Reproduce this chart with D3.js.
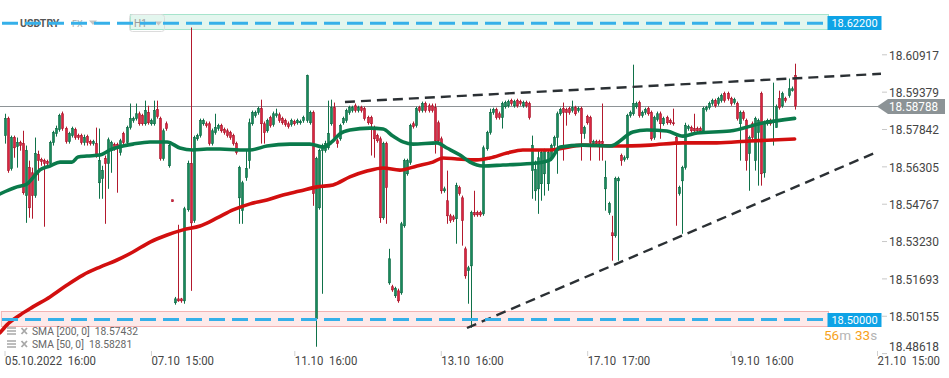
<!DOCTYPE html>
<html>
<head>
<meta charset="utf-8">
<script src="https://cdn.jsdelivr.net/npm/d3@7"></script>
<style>
  body { margin: 0; background: #fff; }
  svg { display: block; font-family: Roboto, sans-serif; }
  text { white-space: pre; }
</style>
</head>
<body>
<script>
const symbol = 'USDTRY'
const market = 'FX'
const interval = 'H1'

// x axis: candle index of each label
const xTickIdx = [0, 48, 95, 143, 191, 238, 286]
const xTickLabels = ['05.10.2022  16:00', '07.10  15:00', '11.10  16:00', '13.10  16:00', '17.10  17:00', '19.10  16:00', '21.10  15:00']
const yTicks = [18.48618, 18.50155, 18.51693, 18.53230, 18.54767, 18.56305, 18.57842, 18.59379, 18.60917]

// hourly candles
const opens = [
  18.5757, 18.5827, 18.5621, 18.5749, 18.5712, 18.5728, 18.5724, 18.5510, 18.5625, 18.5604,
  18.5510, 18.5679, 18.5658, 18.5654, 18.5650, 18.5642, 18.5728, 18.5765, 18.5782, 18.5847,
  18.5786, 18.5732, 18.5757, 18.5782, 18.5757, 18.5757, 18.5728, 18.5753, 18.5732, 18.5724,
  18.5724, 18.5563, 18.5580, 18.5662, 18.5642, 18.5703, 18.5720, 18.5720, 18.5687, 18.5765,
  18.5728, 18.5790, 18.5819, 18.5827, 18.5847, 18.5839, 18.5806, 18.5852, 18.5806, 18.5806,
  18.5864, 18.5827, 18.5662, 18.5806, 18.5633, 18.5493, 18.5069, 18.5085, 18.5085, 18.5077,
  18.5452, 18.5642, 18.5407, 18.5744, 18.5757, 18.5806, 18.5806, 18.5806, 18.5724, 18.5769,
  18.5786, 18.5798, 18.5782, 18.5777, 18.5769, 18.5757, 18.5724, 18.5501, 18.5448, 18.5584,
  18.5654, 18.5806, 18.5839, 18.5852, 18.5868, 18.5806, 18.5777, 18.5831, 18.5802, 18.5839,
  18.5843, 18.5827, 18.5819, 18.5806, 18.5802, 18.5815, 18.5810, 18.5810, 18.5819, 18.5819,
  18.5810, 18.5852, 18.5003, 18.5460, 18.5695, 18.5695, 18.5707, 18.5806, 18.5872, 18.5736,
  18.5744, 18.5810, 18.5819, 18.5852, 18.5860, 18.5880, 18.5860, 18.5872, 18.5868, 18.5831,
  18.5831, 18.5790, 18.5757, 18.5744, 18.5419, 18.5724, 18.5151, 18.5135, 18.5098, 18.5118,
  18.5110, 18.5386, 18.5600, 18.5646, 18.5806, 18.5798, 18.5872, 18.5860, 18.5889, 18.5880,
  18.5880, 18.5872, 18.5810, 18.5744, 18.5530, 18.5489, 18.5427, 18.5423, 18.5415, 18.5543,
  18.5501, 18.5291, 18.5201, 18.5221, 18.5440, 18.5440, 18.5440, 18.5435, 18.5703, 18.5769,
  18.5852, 18.5864, 18.5847, 18.5831, 18.5876, 18.5880, 18.5901, 18.5880, 18.5901, 18.5897,
  18.5880, 18.5893, 18.5889, 18.5613, 18.5530, 18.5538, 18.5559, 18.5600, 18.5559, 18.5666,
  18.5716, 18.5749, 18.5847, 18.5868, 18.5864, 18.5868, 18.5860, 18.5872, 18.5860, 18.5868,
  18.5765, 18.5835, 18.5831, 18.5724, 18.5732, 18.5732, 18.5732, 18.5538, 18.5440, 18.5357,
  18.5345, 18.5571, 18.5675, 18.5658, 18.5666, 18.5839, 18.5847, 18.5876, 18.5893, 18.5839,
  18.5852, 18.5868, 18.5852, 18.5749, 18.5823, 18.5847, 18.5806, 18.5831, 18.5819, 18.5810,
  18.5749, 18.5518, 18.5571, 18.5625, 18.5786, 18.5790, 18.5786, 18.5786, 18.5786, 18.5777,
  18.5864, 18.5872, 18.5889, 18.5901, 18.5889, 18.5901, 18.5930, 18.5930, 18.5909, 18.5893,
  18.5889, 18.5806, 18.5852, 18.5819, 18.5683, 18.5806, 18.5654, 18.5769, 18.5930, 18.5604,
  18.5806, 18.5819, 18.5810, 18.5790, 18.5909, 18.5880, 18.5909, 18.5922, 18.5942, 18.6004
]
const highs = [
  18.5847, 18.5835, 18.5757, 18.5757, 18.5749, 18.5736, 18.5777, 18.5716, 18.5654, 18.5625,
  18.5749, 18.5695, 18.5666, 18.5662, 18.5658, 18.5736, 18.5777, 18.5798, 18.5847, 18.5856,
  18.5794, 18.5773, 18.5794, 18.5790, 18.5765, 18.5765, 18.5761, 18.5761, 18.5740, 18.5740,
  18.5790, 18.5786, 18.5633, 18.5675, 18.5749, 18.5736, 18.5728, 18.5728, 18.5744, 18.5773,
  18.5798, 18.5889, 18.5835, 18.5889, 18.5856, 18.5847, 18.5901, 18.5880, 18.5827, 18.5901,
  18.5901, 18.5835, 18.5786, 18.5815, 18.5724, 18.5493, 18.5093, 18.5390, 18.5089, 18.5464,
  18.5654, 18.6202, 18.5757, 18.5765, 18.5827, 18.5827, 18.5815, 18.5815, 18.5786, 18.5847,
  18.5806, 18.5806, 18.5790, 18.5786, 18.5777, 18.5765, 18.5732, 18.5633, 18.5571, 18.5695,
  18.5827, 18.5860, 18.5860, 18.5876, 18.5905, 18.5815, 18.5827, 18.5839, 18.5856, 18.5868,
  18.5852, 18.5835, 18.5827, 18.5815, 18.5827, 18.5823, 18.5827, 18.5823, 18.5839, 18.6008,
  18.5860, 18.5860, 18.5670, 18.5703, 18.5724, 18.5736, 18.5901, 18.5905, 18.5893, 18.5744,
  18.5806, 18.5835, 18.5868, 18.5880, 18.5880, 18.5889, 18.5880, 18.5880, 18.5876, 18.5839,
  18.5839, 18.5798, 18.5765, 18.5753, 18.5732, 18.5732, 18.5291, 18.5143, 18.5135, 18.5127,
  18.5402, 18.5662, 18.5662, 18.5806, 18.5815, 18.5876, 18.5880, 18.5897, 18.5897, 18.5889,
  18.5889, 18.5889, 18.5819, 18.5753, 18.5547, 18.5613, 18.5435, 18.5431, 18.5563, 18.5551,
  18.5510, 18.5300, 18.5221, 18.5448, 18.5530, 18.5448, 18.5448, 18.5716, 18.5777, 18.5868,
  18.5872, 18.5872, 18.5856, 18.5897, 18.5901, 18.5905, 18.5909, 18.5905, 18.5909, 18.5905,
  18.5901, 18.5901, 18.5897, 18.5757, 18.5654, 18.5695, 18.5695, 18.5703, 18.5695, 18.5724,
  18.5757, 18.5856, 18.5872, 18.5893, 18.5872, 18.5876, 18.5901, 18.5880, 18.5876, 18.5876,
  18.5798, 18.5843, 18.5839, 18.5740, 18.5740, 18.5740, 18.5889, 18.5654, 18.5485, 18.5427,
  18.5588, 18.5588, 18.5683, 18.5675, 18.5847, 18.5860, 18.6049, 18.5897, 18.5901, 18.5860,
  18.5872, 18.5876, 18.5860, 18.5839, 18.5856, 18.5856, 18.5835, 18.5839, 18.5827, 18.5868,
  18.5757, 18.5551, 18.5633, 18.5810, 18.5802, 18.5798, 18.5847, 18.5794, 18.5794, 18.5876,
  18.5880, 18.5897, 18.5909, 18.5909, 18.5917, 18.5930, 18.5938, 18.5938, 18.5917, 18.5913,
  18.5897, 18.5860, 18.5860, 18.5827, 18.5757, 18.5815, 18.5835, 18.5827, 18.5938, 18.5819,
  18.5827, 18.5827, 18.5975, 18.5885, 18.5942, 18.5938, 18.5917, 18.5992, 18.5959, 18.6053
]
const lows = [
  18.5724, 18.5604, 18.5613, 18.5666, 18.5625, 18.5695, 18.5514, 18.5398, 18.5419, 18.5415,
  18.5501, 18.5571, 18.5633, 18.5382, 18.5629, 18.5633, 18.5716, 18.5753, 18.5773, 18.5777,
  18.5724, 18.5724, 18.5749, 18.5740, 18.5740, 18.5720, 18.5716, 18.5716, 18.5716, 18.5716,
  18.5666, 18.5497, 18.5497, 18.5394, 18.5538, 18.5604, 18.5695, 18.5522, 18.5675, 18.5716,
  18.5720, 18.5782, 18.5810, 18.5819, 18.5798, 18.5798, 18.5798, 18.5802, 18.5798, 18.5798,
  18.5827, 18.5654, 18.5654, 18.5777, 18.5625, 18.5485, 18.5061, 18.5073, 18.5069, 18.5065,
  18.5444, 18.5118, 18.5398, 18.5736, 18.5749, 18.5798, 18.5790, 18.5716, 18.5716, 18.5761,
  18.5777, 18.5769, 18.5761, 18.5749, 18.5740, 18.5716, 18.5679, 18.5394, 18.5394, 18.5571,
  18.5621, 18.5798, 18.5831, 18.5843, 18.5724, 18.5724, 18.5769, 18.5790, 18.5794, 18.5831,
  18.5810, 18.5802, 18.5794, 18.5786, 18.5794, 18.5798, 18.5802, 18.5802, 18.5810, 18.5810,
  18.5802, 18.5468, 18.4888, 18.5452, 18.5106, 18.5687, 18.5699, 18.5798, 18.5740, 18.5707,
  18.5736, 18.5802, 18.5810, 18.5843, 18.5852, 18.5852, 18.5852, 18.5852, 18.5819, 18.5802,
  18.5675, 18.5666, 18.5728, 18.5398, 18.5411, 18.5394, 18.5143, 18.5114, 18.5089, 18.5069,
  18.5102, 18.5378, 18.5592, 18.5637, 18.5786, 18.5790, 18.5852, 18.5852, 18.5852, 18.5852,
  18.5852, 18.5683, 18.5728, 18.5518, 18.5522, 18.5394, 18.5398, 18.5402, 18.5312, 18.5510,
  18.5304, 18.5168, 18.5065, 18.4966, 18.5423, 18.5423, 18.5423, 18.5427, 18.5695, 18.5761,
  18.5843, 18.5823, 18.5823, 18.5786, 18.5868, 18.5872, 18.5880, 18.5872, 18.5872, 18.5880,
  18.5872, 18.5872, 18.5823, 18.5497, 18.5489, 18.5435, 18.5489, 18.5510, 18.5530, 18.5654,
  18.5707, 18.5600, 18.5839, 18.5654, 18.5798, 18.5843, 18.5852, 18.5839, 18.5852, 18.5654,
  18.5744, 18.5802, 18.5654, 18.5716, 18.5716, 18.5654, 18.5654, 18.5448, 18.5431, 18.5242,
  18.5337, 18.5242, 18.5633, 18.5650, 18.5658, 18.5831, 18.5839, 18.5868, 18.5831, 18.5831,
  18.5843, 18.5839, 18.5736, 18.5740, 18.5815, 18.5744, 18.5798, 18.5802, 18.5802, 18.5798,
  18.5386, 18.5510, 18.5353, 18.5617, 18.5777, 18.5769, 18.5769, 18.5769, 18.5769, 18.5769,
  18.5856, 18.5864, 18.5880, 18.5872, 18.5880, 18.5893, 18.5893, 18.5901, 18.5880, 18.5885,
  18.5819, 18.5654, 18.5819, 18.5613, 18.5530, 18.5740, 18.5613, 18.5551, 18.5551, 18.5584,
  18.5798, 18.5798, 18.5716, 18.5790, 18.5864, 18.5872, 18.5893, 18.5913, 18.5938, 18.5864
]
const closes = [
  18.5827, 18.5613, 18.5749, 18.5707, 18.5728, 18.5716, 18.5522, 18.5695, 18.5460, 18.5510,
  18.5683, 18.5654, 18.5650, 18.5642, 18.5642, 18.5728, 18.5769, 18.5786, 18.5839, 18.5786,
  18.5732, 18.5765, 18.5786, 18.5749, 18.5749, 18.5728, 18.5749, 18.5728, 18.5724, 18.5732,
  18.5675, 18.5654, 18.5613, 18.5642, 18.5740, 18.5728, 18.5707, 18.5703, 18.5736, 18.5728,
  18.5790, 18.5827, 18.5827, 18.5847, 18.5806, 18.5806, 18.5860, 18.5810, 18.5819, 18.5860,
  18.5835, 18.5662, 18.5777, 18.5786, 18.5716, 18.5485, 18.5085, 18.5077, 18.5077, 18.5456,
  18.5642, 18.5398, 18.5749, 18.5757, 18.5819, 18.5819, 18.5798, 18.5724, 18.5777, 18.5790,
  18.5798, 18.5777, 18.5769, 18.5757, 18.5749, 18.5724, 18.5687, 18.5625, 18.5563, 18.5621,
  18.5810, 18.5852, 18.5852, 18.5868, 18.5806, 18.5769, 18.5819, 18.5798, 18.5847, 18.5847,
  18.5819, 18.5810, 18.5802, 18.5794, 18.5819, 18.5806, 18.5819, 18.5815, 18.5831, 18.6004,
  18.5852, 18.5518, 18.5662, 18.5695, 18.5716, 18.5724, 18.5765, 18.5872, 18.5749, 18.5724,
  18.5798, 18.5827, 18.5860, 18.5872, 18.5872, 18.5860, 18.5872, 18.5860, 18.5827, 18.5810,
  18.5806, 18.5744, 18.5736, 18.5419, 18.5724, 18.5543, 18.5250, 18.5122, 18.5127, 18.5077,
  18.5394, 18.5654, 18.5654, 18.5798, 18.5794, 18.5868, 18.5860, 18.5889, 18.5860, 18.5860,
  18.5860, 18.5736, 18.5736, 18.5530, 18.5538, 18.5427, 18.5407, 18.5411, 18.5551, 18.5518,
  18.5407, 18.5180, 18.5213, 18.5440, 18.5431, 18.5431, 18.5431, 18.5707, 18.5769, 18.5852,
  18.5864, 18.5831, 18.5831, 18.5889, 18.5893, 18.5897, 18.5889, 18.5897, 18.5880, 18.5889,
  18.5893, 18.5880, 18.5831, 18.5716, 18.5617, 18.5666, 18.5687, 18.5695, 18.5687, 18.5716,
  18.5749, 18.5847, 18.5864, 18.5852, 18.5852, 18.5852, 18.5872, 18.5847, 18.5868, 18.5765,
  18.5790, 18.5810, 18.5728, 18.5732, 18.5724, 18.5724, 18.5724, 18.5584, 18.5477, 18.5345,
  18.5580, 18.5580, 18.5654, 18.5666, 18.5839, 18.5852, 18.5889, 18.5889, 18.5839, 18.5852,
  18.5864, 18.5847, 18.5744, 18.5831, 18.5847, 18.5806, 18.5827, 18.5810, 18.5810, 18.5806,
  18.5728, 18.5543, 18.5625, 18.5798, 18.5794, 18.5777, 18.5777, 18.5777, 18.5777, 18.5868,
  18.5872, 18.5889, 18.5901, 18.5880, 18.5909, 18.5922, 18.5901, 18.5909, 18.5889, 18.5905,
  18.5827, 18.5852, 18.5827, 18.5654, 18.5749, 18.5749, 18.5827, 18.5819, 18.5600, 18.5810,
  18.5819, 18.5806, 18.5819, 18.5876, 18.5872, 18.5930, 18.5901, 18.5950, 18.5950, 18.5879
]

// moving averages: [candle index, value]
const sma50 = [
  [-1.5, 18.5517], [4.1, 18.5546], [7.4, 18.5558], [9.3, 18.5583], [11.6, 18.5616], [14.9, 18.5632],
  [18.2, 18.5648], [22.1, 18.5648], [24.1, 18.5669], [27, 18.5673], [31.3, 18.5677], [34.6, 18.5698],
  [38.8, 18.5714], [42.1, 18.5722], [47.7, 18.5731], [53.3, 18.5731], [57.5, 18.5706], [61.8, 18.5698],
  [66.4, 18.5702], [70.6, 18.5702], [77.2, 18.5698], [80.5, 18.5698], [86, 18.5714], [93.6, 18.5722],
  [100.1, 18.5722], [104.4, 18.5710], [107.3, 18.5731], [109.9, 18.5764], [113.2, 18.5780], [119.8, 18.5788],
  [124.1, 18.5784], [127.3, 18.5755], [130.6, 18.5731], [133.9, 18.5722], [141.8, 18.5727], [145, 18.5706],
  [149.3, 18.5677], [152.6, 18.5648], [156.8, 18.5632], [163.4, 18.5636], [174.5, 18.5644], [178.8, 18.5657],
  [182.1, 18.5710], [189.6, 18.5718], [198.5, 18.5714], [206, 18.5772], [210.6, 18.5780], [217.1, 18.5776],
  [222.4, 18.5755], [227, 18.5768], [237.8, 18.5776], [248.6, 18.5809], [259, 18.5828]
]
const sma200 = [
  [-1.5, 18.4945], [0.8, 18.4978], [5.1, 18.5019], [9.3, 18.5052], [14.9, 18.5093], [20.5, 18.5142],
  [25.7, 18.5183], [31.3, 18.5216], [36.9, 18.5245], [42.1, 18.5278], [47.7, 18.5319], [53.3, 18.5348],
  [58.5, 18.5369], [64.1, 18.5385], [69.7, 18.5418], [74.9, 18.5451], [80.5, 18.5476], [86, 18.5492],
  [91.3, 18.5513], [96.8, 18.5529], [102.4, 18.5546], [107.7, 18.5554], [113.2, 18.5587], [118.8, 18.5611],
  [124.1, 18.5624], [129.6, 18.5615], [135.2, 18.5632], [140.4, 18.5648], [143.7, 18.5665], [148.3, 18.5661],
  [154.9, 18.5657], [159.1, 18.5665], [164.7, 18.5685], [169.9, 18.5698], [178.8, 18.5698], [189.6, 18.5718],
  [200.7, 18.5714], [211.6, 18.5718], [222.4, 18.5727], [233.5, 18.5727], [244.3, 18.5735], [259, 18.5743]
]
const smaNames = ['SMA [200, 0]', 'SMA [50, 0]']
const smaValues = ['18.57432', '18.58281']

// horizontal levels and where their boxes start (candle index)
const levels = [18.62200, 18.50000]
const levelFrom = [41.1, -1.2]
const lastPrice = 18.58788
// trend lines: [candle index, price]
const trendUpper = [[111.6, 18.58954], [287.3, 18.60114]]
const trendLower = [[151.6, 18.49651], [286, 18.56896]]
const countdown = ['56', 'm', '33', 's']

const width = 949
const height = 378
const plotRight = 882
const plotBottom = 352

const svg = d3.select('body').append('svg')
  .attr('width', width)
  .attr('height', height)

const xScale = d3.scaleLinear()
  .domain([0, 286])
  .range([4.5, 877])

const yScale = d3.scaleLinear()
  .domain([18.48618, 18.60917])
  .range([353.1, 54.3])

svg.append('clipPath')
  .attr('id', 'plot-clip')
  .append('rect')
  .attr('x', 0).attr('y', 0)
  .attr('width', plotRight).attr('height', plotBottom)

// level boxes
const bandFill = ['#e3f6ee', '#fdeaea']
const bandEdge = ['#a6e4cc', '#f3b3b3']
svg.selectAll('.band')
  .data(levels)
  .enter().append('rect')
  .attr('class', 'band')
  .attr('x', (d, i) => xScale(levelFrom[i]) + 0.5)
  .attr('y', d => Math.round(yScale(d)) - 8.5)
  .attr('width', (d, i) => 828 - xScale(levelFrom[i]))
  .attr('height', 15)
  .style('fill', (d, i) => bandFill[i])
  .style('stroke', (d, i) => bandEdge[i])
  .style('stroke-width', 1)

// symbol header
const head = svg.append('g')
head.append('text')
  .attr('x', 20).attr('y', 27)
  .style('font-size', '10.5px').style('font-weight', 700).style('fill', '#555')
  .text(symbol)
head.append('text')
  .attr('x', 72).attr('y', 27)
  .style('font-size', '9px').style('fill', '#aaa')
  .text(market)
head.append('path')
  .attr('d', 'M89,20.5 L97,20.5 L93,25 Z')
  .style('fill', '#c4c4c4')
head.append('rect')
  .attr('x', 129.5).attr('y', 14.5).attr('width', 35).attr('height', 17).attr('rx', 3)
  .style('fill', 'none').style('stroke', '#dcdcdc')
head.append('text')
  .attr('x', 134).attr('y', 27)
  .style('font-size', '10px').style('fill', '#9a9a9a')
  .text(interval)
head.append('path')
  .attr('d', 'M155,21.5 L162,21.5 L158.5,25.5 Z')
  .style('fill', '#c4c4c4')

// level lines
svg.selectAll('.level')
  .data(levels)
  .enter().append('line')
  .attr('class', 'level')
  .attr('x1', 2).attr('x2', 828)
  .attr('y1', d => yScale(d)).attr('y2', d => yScale(d))
  .style('stroke', '#36b0e9')
  .style('stroke-width', 3)
  .style('stroke-dasharray', '16,7')

const plot = svg.append('g').attr('clip-path', 'url(#plot-clip)')

// last price line
plot.append('line')
  .attr('x1', 0).attr('x2', plotRight)
  .attr('y1', Math.round(yScale(lastPrice)) + 0.5)
  .attr('y2', Math.round(yScale(lastPrice)) + 0.5)
  .style('stroke', '#8e9497')
  .style('stroke-width', 1)

const candles = closes.map((c, i) => ({ i, o: opens[i], h: highs[i], l: lows[i], c }))
const up = d => d.c >= d.o
const cx = d => Math.round(xScale(d.i))

plot.selectAll('.wick')
  .data(candles)
  .enter().append('line')
  .attr('class', 'wick')
  .attr('x1', d => cx(d) + 0.5).attr('x2', d => cx(d) + 0.5)
  .attr('y1', d => yScale(d.h)).attr('y2', d => yScale(d.l))
  .style('stroke', d => up(d) ? '#0f7149' : '#b3192d')
  .style('stroke-width', 1)

plot.selectAll('.body')
  .data(candles)
  .enter().append('rect')
  .attr('class', 'body')
  .attr('x', d => cx(d) - 0.5)
  .attr('y', d => yScale(Math.max(d.o, d.c)))
  .attr('width', 2)
  .attr('height', d => Math.max(1, Math.abs(yScale(d.o) - yScale(d.c))))
  .style('fill', d => up(d) ? '#18895b' : '#da2540')
  .style('stroke', d => up(d) ? '#0b6842' : '#a5152a')
  .style('stroke-width', 0.6)

const smaLine = d3.line()
  .x(d => xScale(d[0]))
  .y(d => yScale(d[1]))
  .curve(d3.curveMonotoneX)

plot.append('path')
  .datum(sma200)
  .attr('d', smaLine)
  .style('fill', 'none')
  .style('stroke', '#d20f0f')
  .style('stroke-width', 3.6)
  .style('stroke-linecap', 'round')

plot.append('path')
  .datum(sma50)
  .attr('d', smaLine)
  .style('fill', 'none')
  .style('stroke', '#0a7a4b')
  .style('stroke-width', 3.6)
  .style('stroke-linecap', 'round')

const trendLine = d3.line()
  .x(d => xScale(d[0]))
  .y(d => yScale(d[1]))

plot.selectAll('.trend')
  .data([trendUpper, trendLower])
  .enter().append('path')
  .attr('class', 'trend')
  .attr('d', trendLine)
  .style('fill', 'none')
  .style('stroke', '#2b3034')
  .style('stroke-width', 2.4)
  .style('stroke-dasharray', '10,6')

// level price boxes
const levelTag = svg.selectAll('.level-tag')
  .data(levels)
  .enter().append('g')
  .attr('class', 'level-tag')
  .attr('transform', d => `translate(827.5, ${Math.round(yScale(d))})`)
levelTag.append('rect')
  .attr('x', 0).attr('y', -7)
  .attr('width', 54).attr('height', 14)
  .style('fill', '#0ea3e6')
levelTag.append('text')
  .attr('x', 27).attr('y', 4)
  .attr('text-anchor', 'middle')
  .style('font-size', '11px').style('fill', '#fff')
  .text(d => d.toFixed(5))

// y axis
const yAxis = svg.append('g')
  .attr('class', 'y axis')
  .attr('transform', `translate(${plotRight}, 0)`)
  .call(d3.axisRight(yScale)
    .tickValues(yTicks)
    .tickSize(5)
    .tickPadding(2)
    .tickFormat(d => d.toFixed(5)))
yAxis.select('.domain').remove()
yAxis.selectAll('.tick line').style('stroke', '#c8c8c8')
yAxis.selectAll('.tick text')
  .attr('dy', '0.36em')
  .attr('y', d => yScale(d) > 348 ? -7.5 : 0)
  .attr('textLength', 50)
  .attr('lengthAdjust', 'spacingAndGlyphs')
  .style('font-size', '13.5px')
  .style('font-family', 'Roboto, sans-serif')
  .style('fill', '#454545')

// last price tag
const py = Math.round(yScale(lastPrice)) + 0.5
svg.append('path')
  .attr('d', `M877,${py} L888,${py - 7.5} L945,${py - 7.5} L945,${py + 7.5} L888,${py + 7.5} Z`)
  .style('fill', '#8c9396')
svg.append('text')
  .attr('x', 889).attr('y', py + 4.8)
  .attr('textLength', 49)
  .attr('lengthAdjust', 'spacingAndGlyphs')
  .style('font-size', '13.5px').style('fill', '#fff')
  .text(lastPrice.toFixed(5))

// x axis
const xAxis = svg.append('g')
  .attr('class', 'x axis')
  .attr('transform', `translate(0, ${plotBottom - 1})`)
  .call(d3.axisBottom(xScale)
    .tickValues(xTickIdx)
    .tickSize(5)
    .tickFormat((d, i) => xTickLabels[i]))
xAxis.select('.domain').remove()
xAxis.selectAll('.tick line').style('stroke', '#d0d0d0')
xAxis.selectAll('.tick text')
  .attr('text-anchor', 'start')
  .attr('y', 14.5).attr('dy', 0)
  .attr('transform', 'scale(0.91, 1)')
  .style('font-size', '12.5px')
  .style('font-family', 'Roboto, sans-serif')
  .style('fill', '#454545')

// countdown
const cd = svg.append('text')
  .attr('x', 824).attr('y', 340)
  .style('font-size', '13.5px')
cd.selectAll('tspan')
  .data(countdown)
  .enter().append('tspan')
  .attr('dx', (d, i) => i === 2 ? 4 : 0)
  .style('fill', (d, i) => i % 2 === 0 ? '#f7a21b' : '#b5b5b5')
  .text(d => d)

// sma legend
const legend = svg.selectAll('.legend')
  .data(smaNames)
  .enter().append('g')
  .attr('class', 'legend')
  .attr('transform', (d, i) => `translate(0, ${331.5 + i * 13})`)
legend.append('path')
  .attr('d', 'M7,-3.5 H16 M7,-0.5 H16 M7,2.5 H16')
  .style('stroke', '#a8a8a8').style('stroke-width', 1.6)
legend.append('path')
  .attr('d', 'M21.5,-3.5 L27,2.5 M27,-3.5 L21.5,2.5')
  .style('stroke', '#a8a8a8').style('stroke-width', 1.8)
legend.append('text')
  .attr('x', 32).attr('y', 3.6)
  .style('font-size', '10.3px').style('fill', '#666')
  .text((d, i) => `${d}  ${smaValues[i]}`)

// data line over the header
svg.selectAll('.level').raise()
head.selectAll('rect').raise()
</script>
</body>
</html>
